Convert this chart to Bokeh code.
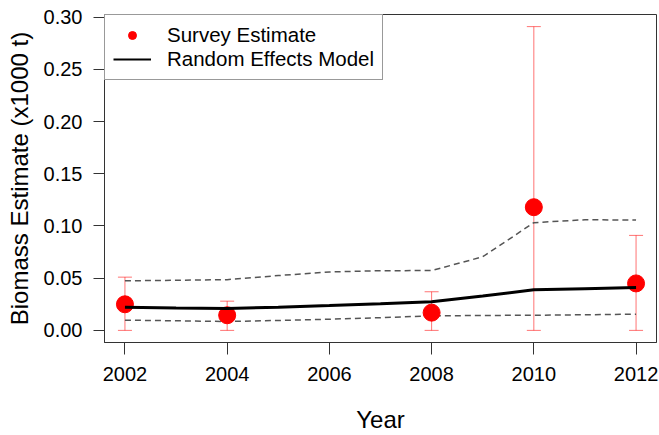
from bokeh.plotting import figure
from bokeh.models import (ColumnDataSource, Whisker, TeeHead, Legend, LegendItem,
                          FixedTicker, NumeralTickFormatter, Range1d)
from bokeh.embed import file_html
from bokeh.resources import INLINE

# ---- data ----
survey_years = [2002, 2004, 2008, 2010, 2012]
survey_est = [0.025, 0.0145, 0.017, 0.118, 0.045]
survey_upper = [0.051, 0.028, 0.037, 0.291, 0.091]
survey_lower = [0.0, 0.0, 0.0, 0.0, 0.0]

model_years = [2002, 2003, 2004, 2005, 2006, 2007, 2008, 2009, 2010, 2011, 2012]
model_est = [0.0222, 0.0215, 0.0209, 0.0222, 0.0238, 0.0255, 0.0275, 0.0330, 0.0389, 0.0400, 0.0410]
model_upper = [0.0475, 0.0480, 0.0486, 0.0525, 0.0560, 0.0572, 0.0573, 0.0705, 0.1032, 0.1060, 0.1057]
model_lower = [0.0098, 0.0092, 0.0085, 0.0095, 0.0107, 0.0122, 0.0139, 0.0143, 0.0145, 0.0150, 0.0155]

x_ticks = [2002, 2004, 2006, 2008, 2010, 2012]
y_ticks = [0.0, 0.05, 0.10, 0.15, 0.20, 0.25, 0.30]

FONT = "Liberation Sans"

p = figure(width=659, height=435, output_backend="svg", toolbar_location=None,
           x_range=Range1d(2001.6, 2012.4), y_range=Range1d(-0.0116, 0.3026),
           min_border_left=104, min_border_top=14, min_border_bottom=0, min_border_right=3)
p.grid.visible = False
p.outline_line_color = "#333333"
p.outline_line_width = 1
p.background_fill_color = "white"
p.border_fill_color = "white"

for ax in (p.xaxis[0], p.yaxis[0]):
    ax.major_label_text_font = FONT
    ax.major_label_text_font_size = "20px"
    ax.major_label_text_color = "black"
    ax.axis_label_text_font = FONT
    ax.axis_label_text_font_size = "24px"
    ax.axis_label_text_font_style = "normal"
    ax.axis_label_text_color = "black"
    ax.axis_line_color = "#333333"
    ax.major_tick_line_color = "#333333"
    ax.major_tick_in = 0
    ax.minor_tick_line_color = None

p.xaxis.major_tick_out = 12
p.yaxis.major_tick_out = 11
p.xaxis.major_label_standoff = 12
p.yaxis.major_label_standoff = 11

p.xaxis.ticker = FixedTicker(ticks=x_ticks)
p.yaxis.ticker = FixedTicker(ticks=y_ticks)
p.yaxis.formatter = NumeralTickFormatter(format="0.00")
p.xaxis.axis_label = "Year"
p.yaxis.axis_label = "Biomass Estimate (x1000 t)"
p.xaxis.axis_label_standoff = 22
p.yaxis.axis_label_standoff = 8

msrc = ColumnDataSource(dict(x=model_years, est=model_est, up=model_upper, lo=model_lower))
ssrc = ColumnDataSource(dict(x=survey_years, est=survey_est, up=survey_upper, lo=survey_lower))

p.line("x", "up", source=msrc, line_color="#555555", line_width=1.5, line_dash="6 4")
p.line("x", "lo", source=msrc, line_color="#555555", line_width=1.5, line_dash="6 4")

pts = p.scatter("x", "est", source=ssrc, size=17, fill_color="red", line_color="red")

wh = Whisker(base="x", upper="up", lower="lo", source=ssrc,
             line_color="red", line_alpha=0.55, line_width=1,
             upper_head=TeeHead(size=14, line_color="red", line_alpha=0.55, line_width=1),
             lower_head=TeeHead(size=14, line_color="red", line_alpha=0.55, line_width=1))
p.add_layout(wh)

mline = p.line("x", "est", source=msrc, line_color="black", line_width=3)

# legend-only proxies (placed far outside the visible range)
leg_pt = p.scatter(x=[-1000], y=[-1000], size=9, fill_color="red", line_color="red")
leg_ln = p.line(x=[-1000, -999], y=[-1000, -1000], line_color="black", line_width=2)

legend = Legend(items=[LegendItem(label="Survey Estimate", renderers=[leg_pt]),
                       LegendItem(label="Random Effects Model", renderers=[leg_ln])],
                location="top_left")
legend.label_text_font = FONT
legend.label_text_font_size = "20.5px"
legend.label_text_color = "black"
legend.label_height = 20
legend.glyph_height = 20
legend.glyph_width = 38
legend.label_standoff = 16
legend.spacing = 0
legend.padding = 8
legend.margin = 0
legend.border_line_color = "#333333"
legend.border_line_width = 1
legend.background_fill_alpha = 1
p.add_layout(legend)

open("out.html", "w").write(file_html(p, INLINE))
